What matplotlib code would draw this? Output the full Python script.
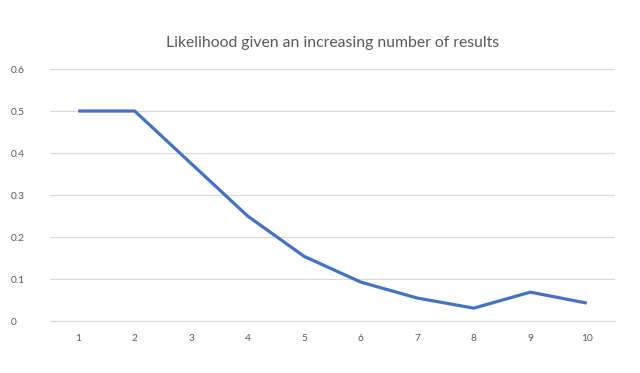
import matplotlib
matplotlib.use('Agg')
import matplotlib.pyplot as plt

results = [1, 2, 3, 4, 5, 6, 7, 8, 9, 10]
likelihood = [0.5, 0.5, 0.375, 0.25, 0.154, 0.093, 0.055, 0.031, 0.069, 0.043]
y_ticks = [0, 0.1, 0.2, 0.3, 0.4, 0.5, 0.6]
y_labels = ['0', '0.1', '0.2', '0.3', '0.4', '0.5', '0.6']

plt.rcParams['font.family'] = ['Lato', 'DejaVu Sans']

fig = plt.figure(figsize=(6.4, 3.73), dpi=100)
ax = fig.add_axes([0.078, 0.139, 0.883, 0.676])

ax.plot(results, likelihood, color='#4472C4', linewidth=2.3, solid_capstyle='butt')

ax.set_xlim(0.5, 10.5)
ax.set_ylim(0, 0.6)
ax.set_yticks(y_ticks)
ax.set_yticklabels(y_labels)
ax.set_xticks(results)
ax.set_xticklabels([str(r) for r in results])
ax.grid(True, axis='y', color='#D9D9D9', linewidth=0.8)
ax.set_axisbelow(True)
for side in ['top', 'right', 'left']:
  ax.spines[side].set_visible(False)
ax.spines['bottom'].set_color('#D9D9D9')
ax.spines['bottom'].set_linewidth(0.8)
ax.tick_params(length=0, labelsize=7.3, labelcolor='#595959', pad=9)
ax.tick_params(axis='y', pad=28)
for lbl in ax.get_yticklabels():
  lbl.set_horizontalalignment('left')

fig.text(0.52, 0.884, 'Likelihood given an increasing number of results',
         ha='center', va='center', fontsize=11.3, color='#595959')

fig.savefig('out.png', dpi=100)
